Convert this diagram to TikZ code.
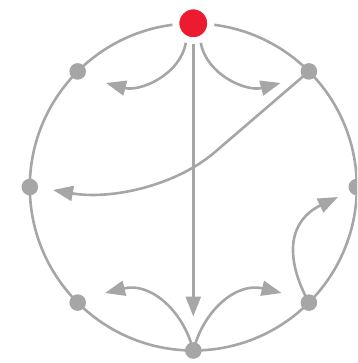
\documentclass[tikz,border=0pt]{standalone}
\usetikzlibrary{arrows.meta}
\definecolor{lgray}{HTML}{A6A6A6}
\definecolor{dotred}{HTML}{ED1B2F}
\begin{document}
\begin{tikzpicture}[x=1pt,y=-1pt,
  ring/.style={draw=lgray,line width=2.6pt},
  arr/.style={draw=lgray,line width=2.6pt,-{Triangle[length=20pt,width=15pt]}},
  dot/.style={circle,fill=lgray,inner sep=0pt,minimum size=16.6pt},
  hub/.style={circle,fill=dotred,draw=white,line width=7pt,inner sep=0pt,minimum size=35pt}]
\useasboundingbox (0,0) rectangle (357,363);
\begin{scope}
\clip (0,0) rectangle (357,363);
% outer circle
\draw[ring] (193.3,187) circle[radius=163.5];
% coordinates of free arrow ends
\coordinate (tl) at (106,83);
\coordinate (tr) at (280.6,83);
\coordinate (bl) at (105,293);
\coordinate (br) at (281.6,293);
\coordinate (lt) at (53,190);
\coordinate (rt) at (338,197);
\coordinate (dn) at (193.3,316.5);
\coordinate (kink) at (215,152);
% node positions (drawn later on top)
\coordinate (pur) at (308.9,71.4);
\coordinate (plr) at (308.9,302.6);
\coordinate (pb) at (193.3,350.5);
% connectors
\draw[arr] (pur) -- (kink) .. controls (175,186.4) and (110,200) .. (lt);
\draw[arr] (plr) .. controls (283,255) and (290,220) .. (rt);
\draw[arr] (pb) .. controls (183,310) and (150,282) .. (bl);
\draw[arr] (pb) .. controls (203.6,310) and (236.6,282) .. (br);
% nodes
\node[hub] (top) at (193.3,23.3) {};
\node[dot] (ul) at (77.7,71.4) {};
\node[dot] (ur) at (pur) {};
\node[dot] (l) at (29.8,187) {};
\node[dot] (r) at (356.8,187) {};
\node[dot] (ll) at (77.7,302.6) {};
\node[dot] (lr) at (plr) {};
\node[dot] (b) at (pb) {};
% arrows from the red node
\draw[arr] (top.-111) .. controls (180,75) and (140,92) .. (tl);
\draw[arr] (top.-69) .. controls (206.6,75) and (246.6,92) .. (tr);
\draw[arr] (top.south) -- (dn);
\end{scope}
\end{tikzpicture}
\end{document}
